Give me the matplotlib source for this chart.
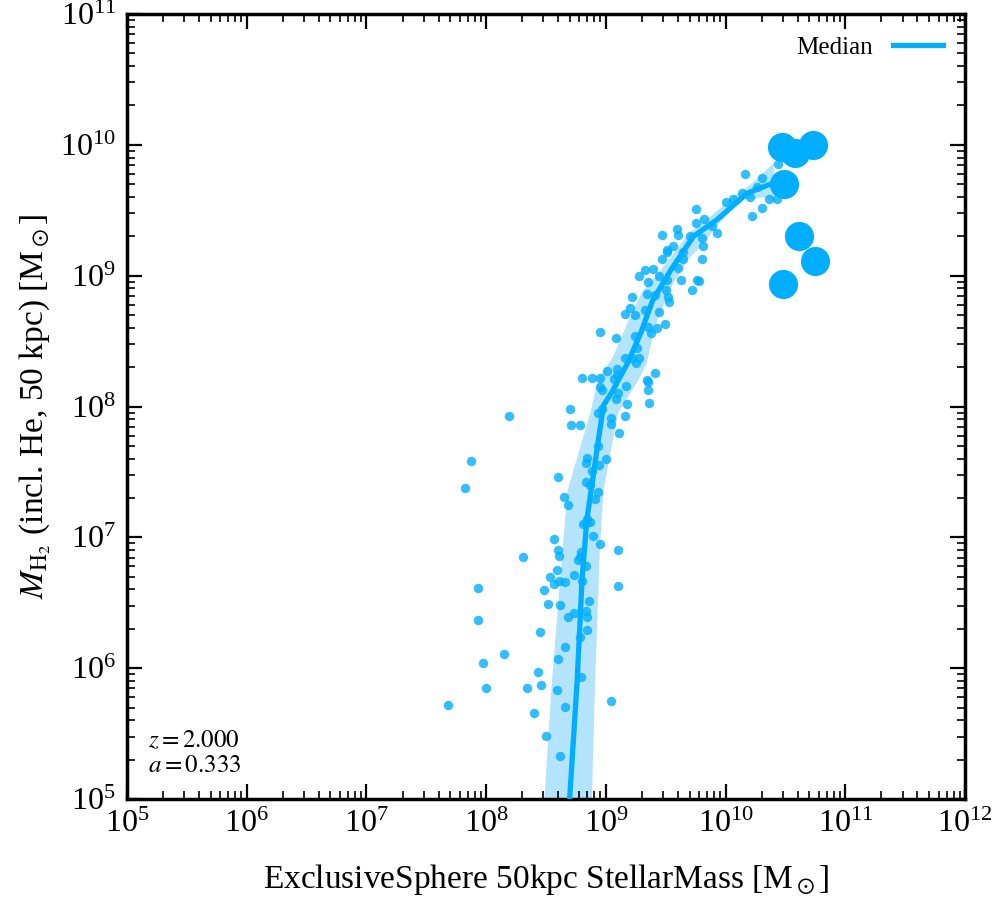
import numpy as np
import matplotlib
matplotlib.use('Agg')
import matplotlib.pyplot as plt
from matplotlib.ticker import LogLocator, NullFormatter

plt.rcParams['font.family'] = ['Liberation Serif', 'DejaVu Serif']
plt.rcParams['mathtext.fontset'] = 'stix'

# 1. 小质量星系（log10 值，从图上读取）
log_mstar = np.array([
    7.68, 7.87, 7.82, 7.93, 7.93, 7.97, 8.00, 8.15, 8.19, 8.31,
    8.34, 8.40, 8.43, 8.46, 8.45, 8.50, 8.62, 8.52, 8.48, 8.53,
    8.57, 8.59, 8.61, 8.66, 8.60, 8.61, 8.57, 8.60, 8.65, 8.68,
    8.70, 8.71, 8.78, 8.62, 8.68, 8.73, 8.73, 8.66, 8.60, 8.59,
    8.66, 8.79, 8.78, 8.84, 8.84, 8.83, 8.86, 8.80, 8.83, 8.78,
    8.77, 8.79, 8.95, 8.89, 8.83, 8.81, 8.87, 8.84, 8.91, 8.93,
    8.87, 8.83, 8.94, 8.88, 8.83, 8.84, 9.00, 8.93, 9.10, 9.10,
    9.04, 9.11, 9.04, 9.04, 9.16, 9.18, 9.17, 9.10, 9.08, 8.93,
    8.97, 8.97, 8.95, 9.35, 9.36, 9.35, 8.80, 8.88, 8.95,
    9.80, 9.64, 9.60, 9.47, 9.51, 9.28, 9.33, 9.39, 9.44, 9.51,
    9.35, 9.63, 9.76, 9.78, 9.72, 9.22, 9.34, 9.41, 9.50, 9.52,
    9.53, 9.20, 9.16, 9.24, 9.33, 9.44, 9.49, 9.35, 9.43, 9.38,
    8.95, 9.08, 9.24, 9.26, 9.16, 9.22, 9.28, 9.25, 9.01, 9.09,
    9.09, 9.07, 9.41, 9.34,
    10.16, 10.30, 10.26, 10.14, 10.20, 10.36, 10.30, 10.22, 10.00, 10.06,
    9.75, 9.75, 9.82, 9.89, 9.93, 9.59, 9.60, 9.47, 9.70, 9.80,
    9.81, 9.56, 9.51, 9.64, 10.44, 10.43,
])
log_mh2 = np.array([
    5.72, 7.58, 7.38, 6.61, 6.37, 6.04, 5.85, 6.11, 7.93, 6.85,
    5.85, 5.66, 5.97, 5.87, 6.28, 5.48, 5.33, 6.49, 6.60, 6.70,
    6.64, 6.75, 6.67, 6.66, 6.90, 6.86, 6.99, 7.46, 7.31, 7.25,
    7.98, 7.86, 7.86, 6.48, 6.39, 6.42, 6.71, 6.16, 6.07, 5.83,
    5.70, 5.93, 6.24, 6.29, 6.39, 6.44, 6.51, 6.67, 6.78, 6.85,
    6.83, 6.89, 6.95, 7.01, 7.11, 7.10, 7.12, 7.14, 7.29, 7.35,
    7.40, 7.42, 7.55, 7.51, 7.57, 7.61, 7.60, 7.70, 6.90, 6.63,
    5.75, 7.80, 7.87, 7.91, 7.93, 8.02, 8.16, 8.10, 8.06, 7.95,
    7.98, 8.13, 8.15, 8.13, 8.03, 8.19, 8.22, 8.22, 8.22,
    9.13, 9.13, 9.06, 9.13, 9.18, 9.00, 9.04, 9.05, 9.00, 8.97,
    8.95, 8.97, 8.97, 8.96, 8.89, 8.84, 8.86, 8.85, 8.89, 8.84,
    8.80, 8.75, 8.71, 8.70, 8.74, 8.72, 8.63, 8.61, 8.60, 8.56,
    8.57, 8.52, 8.54, 8.45, 8.37, 8.37, 8.37, 8.33, 8.27, 8.29,
    8.24, 8.21, 8.26, 8.20,
    9.78, 9.75, 9.68, 9.63, 9.60, 9.59, 9.52, 9.46, 9.56, 9.59,
    9.51, 9.40, 9.43, 9.38, 9.33, 9.36, 9.31, 9.31, 9.30, 9.29,
    9.23, 9.23, 9.20, 9.18, 9.85, 9.59,
])

# 2. 大质量星系（大圆点）
log_mstar_big = np.array([10.47, 10.58, 10.73, 10.49, 10.61, 10.75, 10.48])
log_mh2_big = np.array([9.98, 9.94, 10.00, 9.70, 9.30, 9.11, 8.94])

# 3. 中位数曲线
med_x = np.array([8.69, 8.76, 8.80, 8.84, 8.93, 8.98, 9.05, 9.18, 9.29,
                  9.39, 9.54, 9.73, 9.93, 10.18, 10.40, 10.47])
med_y = np.array([4.90, 5.91, 6.67, 7.13, 7.70, 8.01, 8.11, 8.33, 8.56,
                  8.81, 9.04, 9.30, 9.43, 9.63, 9.71, 9.72])

# 4. 散布带（上/左边缘 和 下/右边缘）
band_up_x = np.array([8.48, 8.55, 8.64, 8.68, 8.87, 8.93, 9.06, 9.20,
                      9.31, 9.44, 9.59, 9.70, 9.87, 10.06, 10.20, 10.40])
band_up_y = np.array([4.91, 5.91, 6.93, 7.36, 7.95, 8.20, 8.38, 8.68,
                      8.89, 9.02, 9.20, 9.33, 9.45, 9.60, 9.69, 9.86])
band_lo_x = np.array([8.88, 8.91, 8.95, 8.98, 9.10, 9.27, 9.34, 9.41,
                      9.54, 9.68, 9.79, 9.91, 10.12, 10.35, 10.41])
band_lo_y = np.array([4.91, 5.91, 6.93, 7.36, 7.95, 8.20, 8.33, 8.61,
                      8.91, 9.12, 9.22, 9.36, 9.58, 9.60, 9.56])

blue = '#00aeff'

fig = plt.figure(figsize=(9.96, 9.0), dpi=100)
ax = fig.add_axes([0.1275, 0.1122, 0.8415, 0.8722])

poly_x = np.concatenate([band_up_x, band_lo_x[::-1]])
poly_y = np.concatenate([band_up_y, band_lo_y[::-1]])
ax.fill(10**poly_x, 10**poly_y, color='#b3e4fb', lw=0, zorder=1)

ax.scatter(10**log_mstar, 10**log_mh2, s=46, color=blue, alpha=0.8,
           lw=0, zorder=2)
ax.plot(10**med_x, 10**med_y, color=blue, lw=3.8, zorder=3, label='Median')
ax.scatter(10**log_mstar_big, 10**log_mh2_big, s=440, color=blue,
           lw=0, zorder=4)

ax.set_xscale('log')
ax.set_yscale('log')
ax.set_xlim(1e5, 1e12)
ax.set_ylim(1e5, 1e11)

for axis in (ax.xaxis, ax.yaxis):
    axis.set_major_locator(LogLocator(base=10, numticks=20))
    axis.set_minor_locator(LogLocator(base=10, subs=np.arange(2, 10), numticks=100))
    axis.set_minor_formatter(NullFormatter())

ax.tick_params(which='both', direction='in', top=True, right=True)
ax.tick_params(which='major', length=11, width=1.6, labelsize=23, pad=8)
ax.tick_params(which='minor', length=5.5, width=1.2)
for sp in ax.spines.values():
    sp.set_linewidth(2.5)

ax.set_xlabel(r'ExclusiveSphere 50kpc StellarMass [M$_\odot$]', fontsize=24, labelpad=16)
ax.set_ylabel(r'$M_{\rm H_2}$ (incl. He, 50 kpc) [M$_\odot$]', fontsize=24, labelpad=5)

ax.text(0.025, 0.028, r'$z = 2.000$' + '\n' + r'$a = 0.333$', transform=ax.transAxes,
        fontsize=18, ha='left', va='bottom', linespacing=1.15)

ax.legend(loc='upper right', frameon=False, markerfirst=False, fontsize=18,
          handlelength=2.0, borderaxespad=0.5)

fig.savefig('out.png', dpi=100)
